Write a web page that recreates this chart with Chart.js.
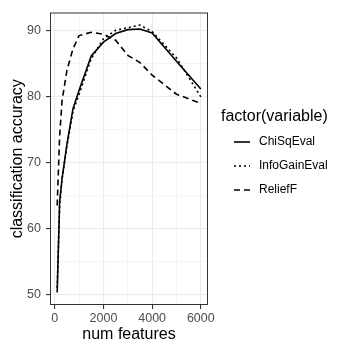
<!DOCTYPE html>
<html>
<head>
<meta charset="utf-8">
<script src="https://cdn.jsdelivr.net/npm/chart.js@4"></script>
<style>
  html, body { margin: 0; padding: 0; background: #fff; }
  #wrap { width: 349px; height: 349px; position: relative; }
</style>
</head>
<body>
<div id="wrap"><canvas id="chart1" width="349" height="349"></canvas></div>
<script>
// data
const numFeatures = [100, 200, 300, 500, 750, 1000, 1500, 2000, 2500, 3000, 3500, 4000, 5000, 6000];
const chiSqEval    = [50.3, 64.0, 67.6, 72.8, 78.2, 81.0, 86.2, 88.3, 89.6, 90.2, 90.3, 89.7, 85.4, 81.2];
const infoGainEval = [51.0, 63.5, 67.5, 72.5, 77.8, 80.4, 85.8, 88.8, 90.1, 90.5, 90.9, 89.9, 85.9, 80.0];
const reliefF      = [63.5, 74.0, 79.4, 84.0, 87.3, 89.3, 89.8, 89.5, 88.6, 86.3, 85.2, 83.3, 80.4, 79.0];

const seriesNames = ['ChiSqEval', 'InfoGainEval', 'ReliefF'];
const seriesDash = [[], [2, 3], [6, 4]];

const xMajor = [0, 2000, 4000, 6000];
const xMinor = [1000, 3000, 5000];
const yMajor = [50, 60, 70, 80, 90];
const yMinor = [55, 65, 75, 85];

const FONT = "'Liberation Sans', Arial, sans-serif";

function toPoints(ys) {
  return numFeatures.map((x, i) => ({ x: x, y: ys[i] }));
}

const allSeries = [chiSqEval, infoGainEval, reliefF];
const datasets = allSeries.map((ys, i) => ({
  label: seriesNames[i],
  data: toPoints(ys),
  borderColor: '#000',
  borderWidth: 1.6,
  borderDash: seriesDash[i],
  pointRadius: 0,
  fill: false,
  tension: 0
}));

function isMajor(list, v) { return list.indexOf(v) >= 0; }

// panel border + legend
const ggPlugin = {
  id: 'gg',
  afterDraw(chart) {
    const ctx = chart.ctx;
    const a = chart.chartArea;
    ctx.save();
    ctx.strokeStyle = '#333333';
    ctx.lineWidth = 1;
    ctx.strokeRect(a.left + 0.5, a.top + 0.5, a.right - a.left - 1, a.bottom - a.top - 1);

    ctx.fillStyle = '#000';
    ctx.textBaseline = 'middle';
    ctx.textAlign = 'left';
    ctx.font = '16px ' + FONT;
    ctx.fillText('factor(variable)', 221, 117);

    ctx.font = '12px ' + FONT;
    const ys = [142, 166, 190];
    seriesNames.forEach((name, i) => {
      ctx.beginPath();
      ctx.setLineDash(seriesDash[i]);
      ctx.lineWidth = 1.6;
      ctx.strokeStyle = '#000';
      ctx.moveTo(234, ys[i]);
      ctx.lineTo(250, ys[i]);
      ctx.stroke();
      ctx.setLineDash([]);
      ctx.fillText(name, 259, ys[i]);
    });
    ctx.restore();
  }
};

const config1 = {
  type: 'line',
  data: { datasets: datasets },
  options: {
    responsive: false,
    animation: false,
    layout: { padding: { top: 7, right: 141, left: 0, bottom: 0 } },
    plugins: { legend: { display: false }, tooltip: { enabled: false } },
    scales: {
      x: {
        type: 'linear',
        min: -195,
        max: 6295,
        afterBuildTicks: s => { s.ticks = xMajor.concat(xMinor).sort((a, b) => a - b).map(v => ({ value: v })); },
        afterFit: s => { s.height = 44; },
        ticks: {
          color: '#4d4d4d',
          font: { family: FONT, size: 12.5 },
          padding: 2,
          maxRotation: 0,
          autoSkip: false,
          callback: v => isMajor(xMajor, v) ? String(v) : ''
        },
        grid: {
          color: c => '#ebebeb',
          lineWidth: c => isMajor(xMajor, c.tick.value) ? 1.1 : 0.5,
          tickColor: c => isMajor(xMajor, c.tick.value) ? '#333333' : 'rgba(0,0,0,0)',
          tickLength: 4
        },
        border: { display: false },
        title: {
          display: true,
          text: 'num features',
          color: '#000',
          font: { family: FONT, size: 16 },
          padding: { top: 2, bottom: 5 }
        }
      },
      y: {
        type: 'linear',
        min: 48.4,
        max: 92.8,
        afterBuildTicks: s => { s.ticks = yMajor.concat(yMinor).sort((a, b) => a - b).map(v => ({ value: v })); },
        afterFit: s => { s.width = 50; },
        ticks: {
          color: '#4d4d4d',
          font: { family: FONT, size: 12.5 },
          padding: 5,
          autoSkip: false,
          callback: v => isMajor(yMajor, v) ? String(v) : ''
        },
        grid: {
          color: c => '#ebebeb',
          lineWidth: c => isMajor(yMajor, c.tick.value) ? 1.1 : 0.5,
          tickColor: c => isMajor(yMajor, c.tick.value) ? '#333333' : 'rgba(0,0,0,0)',
          tickLength: 4
        },
        border: { display: false },
        title: {
          display: true,
          text: 'classification accuracy',
          color: '#000',
          font: { family: FONT, size: 16 },
          padding: { top: 8, bottom: 0 }
        }
      }
    }
  },
  plugins: [ggPlugin]
};

const myChart1 = new Chart(document.getElementById('chart1'), config1);
</script>
</body>
</html>
